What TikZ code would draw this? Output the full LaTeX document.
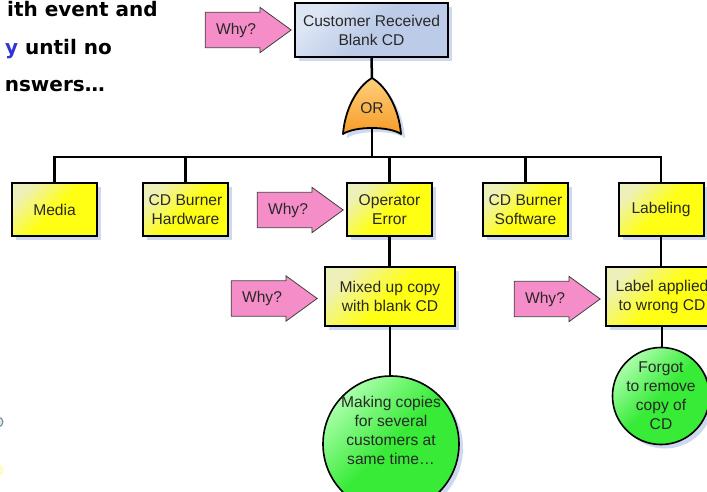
\documentclass[tikz,border=0pt]{standalone}
\usepackage{fontspec}
\setmainfont{Liberation Sans}
\newfontfamily\headfont{DejaVu Sans}
\usepackage{tikz}
\usetikzlibrary{shapes.arrows, shadows}

\definecolor{boxyellow}{RGB}{255,255,20}
\definecolor{boxpale}{RGB}{238,240,185}
\definecolor{topblue}{RGB}{188,204,232}
\definecolor{toppale}{RGB}{222,230,244}
\definecolor{gateorange}{RGB}{246,156,38}
\definecolor{gatepale}{RGB}{255,208,125}
\definecolor{leafgreen}{RGB}{55,235,55}
\definecolor{leafpale}{RGB}{170,255,170}
\definecolor{whypink}{RGB}{245,142,200}
\definecolor{shadowblue}{RGB}{206,216,238}
\definecolor{textblue}{RGB}{50,50,215}
\definecolor{inkgray}{RGB}{40,40,40}

\begin{document}
\begin{tikzpicture}[
            x=1pt, y=-1pt, % one unit per pixel, y going down
            font=\fontsize{15.6}{19}\selectfont, % box text
            softshadow/.style={drop shadow={fill=shadowblue, opacity=1, shadow xshift=4pt, shadow yshift=-4pt}},
            topevent/.style={rectangle, draw, line width=2pt, align=center, text=inkgray, softshadow, top color=toppale, bottom color=topblue, middle color=topblue, shading angle=45},
            cause/.style={rectangle, draw, line width=2pt, align=center, text=inkgray, softshadow, top color=boxpale, bottom color=boxyellow, middle color=boxyellow, shading angle=45, minimum width=85pt, minimum height=53pt, inner sep=1pt},
            subcause/.style={cause, minimum height=59pt},
            rootcause/.style={circle, draw, line width=1.6pt, softshadow, top color=leafpale, bottom color=leafgreen, middle color=leafgreen, shading angle=45, inner sep=0pt},
            leaftext/.style={align=center, text=inkgray, inner sep=0pt},
            why/.style={single arrow, draw=black!75, line width=0.8pt, fill=whypink, text=inkgray, single arrow head extend=5pt, single arrow tip angle=72, minimum height=86pt, inner xsep=6pt, inner ysep=10pt},
            link/.style={line width=2.5pt}, % connector lines
            headline/.style={anchor=base east, inner sep=0pt, font=\headfont\bfseries\fontsize{20}{24}\selectfont}
            ]

    \clip (0,0) rectangle (707,492);
    \useasboundingbox (0,0) rectangle (707,492);

    % slide text cut off at the left
    \node[headline] (lineone) at (158,17) {ith event and};
    \node[headline] (linetwo) at (112,55) {{\color{textblue}y} until no};
    \node[headline] (linethree) at (105,92) {nswers…};

    % fragments at the left border
    \fill[yellow!20] (-2,470) circle (6);
    \draw[gray, fill=cyan!20, line width=1pt] (-2,422) circle (5);

    % top event
    \node[topevent, minimum width=153pt, minimum height=54pt] (event) at (371.5,30) {Customer Received\\Blank CD};
    \node[why] (whytop) at (236,30) {Why?};

    % OR gate
    \coordinate (gatetip) at (372,78);
    \coordinate (gatebase) at (372,129);
    \coordinate (bar) at (372,157);
    \draw[line width=1.8pt, softshadow, top color=gatepale, bottom color=gateorange, line join=round]
        (gatetip) .. controls (358,86) and (345,108) .. (343,134)
        .. controls (355,126) and (389,126) .. (401,134)
        .. controls (399,108) and (386,86) .. (gatetip);
    \node[text=inkgray] (gate) at (372,108) {OR};

    % causes
    \node[cause] (media) at (54.5,209.5) {Media};
    \node[cause] (hardware) at (185.5,209.5) {CD Burner\\Hardware};
    \node[cause] (operator) at (389.5,209.5) {Operator\\Error};
    \node[cause] (software) at (525.5,209.5) {CD Burner\\Software};
    \node[cause] (labeling) at (661,209.5) {Labeling};
    \node[why] (whyoperator) at (288,210) {Why?};

    \node[subcause, minimum width=130pt] (mixup) at (390,296.5) {Mixed up copy\\with blank CD};
    \node[subcause, minimum width=112pt] (labelapp) at (662,296.5) {Label applied\\to wrong CD};
    \node[why] (whymixup) at (262,298.5) {Why?};
    \node[why] (whylabel) at (545,299) {Why?};

    % root causes
    \node[rootcause, minimum size=136pt] (copies) at (391,444) {};
    \node[leaftext] (copiestext) at (391,430) {Making copies\\for several\\customers at\\same time…};
    \node[rootcause, minimum size=90pt, leaftext, draw, line width=1.6pt] (forgot) at (661,396) {Forgot\\to remove\\copy of\\CD};

    % connectors
    \draw[link] (event.south) -- (gatetip);
    \draw[link] (gatebase) -- (bar);
    \draw[link, line cap=rect] (media.north |- bar) -- (labeling.north |- bar);
    \foreach \c in {media,hardware,operator,software,labeling}
        \draw[link] (\c.north) -- (\c.north |- bar);
    \draw[link] (operator.south) -- (operator.south |- mixup.north);
    \draw[link] (labeling.south) -- (labeling.south |- labelapp.north);
    \draw[link] (mixup.south) -- (mixup.south |- copies.north);
    \draw[link] (labelapp.south) -- (labelapp.south |- forgot.north);

\end{tikzpicture}
\end{document}
